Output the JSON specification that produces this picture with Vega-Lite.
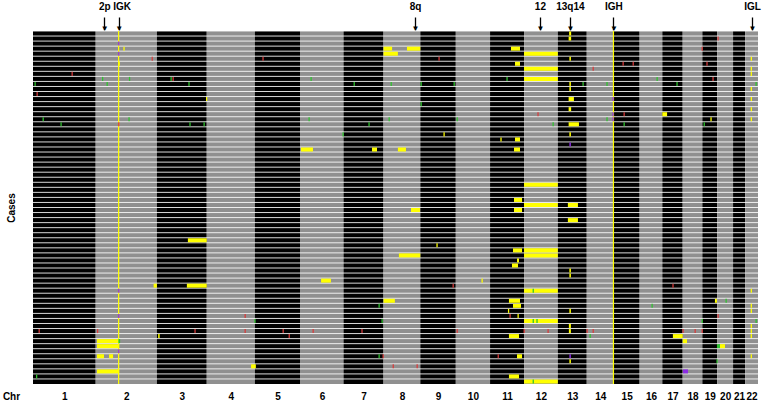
{
  "$schema": "https://vega.github.io/schema/vega-lite/v6.json",
  "width": 725,
  "height": 353,
  "autosize": {"type": "none"},
  "padding": {"left": 33, "top": 31, "right": 5, "bottom": 17},
  "background": "white",
  "config": {"view": {"stroke": null}, "font": "Liberation Sans"},
  "datasets": {
    "chromosomes": [
      {"chr": "1", "start": 0, "end": 249, "shade": "odd"},
      {"chr": "2", "start": 249, "end": 492, "shade": "even"},
      {"chr": "3", "start": 492, "end": 690, "shade": "odd"},
      {"chr": "4", "start": 690, "end": 881, "shade": "even"},
      {"chr": "5", "start": 881, "end": 1062, "shade": "odd"},
      {"chr": "6", "start": 1062, "end": 1233, "shade": "even"},
      {"chr": "7", "start": 1233, "end": 1392, "shade": "odd"},
      {"chr": "8", "start": 1392, "end": 1538, "shade": "even"},
      {"chr": "9", "start": 1538, "end": 1679, "shade": "odd"},
      {"chr": "10", "start": 1679, "end": 1815, "shade": "even"},
      {"chr": "11", "start": 1815, "end": 1950, "shade": "odd"},
      {"chr": "12", "start": 1950, "end": 2084, "shade": "even"},
      {"chr": "13", "start": 2084, "end": 2199, "shade": "odd"},
      {"chr": "14", "start": 2199, "end": 2306, "shade": "even"},
      {"chr": "15", "start": 2306, "end": 2409, "shade": "odd"},
      {"chr": "16", "start": 2409, "end": 2499, "shade": "even"},
      {"chr": "17", "start": 2499, "end": 2580, "shade": "odd"},
      {"chr": "18", "start": 2580, "end": 2658, "shade": "even"},
      {"chr": "19", "start": 2658, "end": 2717, "shade": "odd"},
      {"chr": "20", "start": 2717, "end": 2780, "shade": "even"},
      {"chr": "21", "start": 2780, "end": 2828, "shade": "odd"},
      {"chr": "22", "start": 2828, "end": 2879, "shade": "even"}
    ],
    "cases": [
      {"case": 1}, {"case": 2}, {"case": 3}, {"case": 4}, {"case": 5}, {"case": 6}, {"case": 7}, {"case": 8}, {"case": 9}, {"case": 10},
      {"case": 11}, {"case": 12}, {"case": 13}, {"case": 14}, {"case": 15}, {"case": 16}, {"case": 17}, {"case": 18}, {"case": 19}, {"case": 20},
      {"case": 21}, {"case": 22}, {"case": 23}, {"case": 24}, {"case": 25}, {"case": 26}, {"case": 27}, {"case": 28}, {"case": 29}, {"case": 30},
      {"case": 31}, {"case": 32}, {"case": 33}, {"case": 34}, {"case": 35}, {"case": 36}, {"case": 37}, {"case": 38}, {"case": 39}, {"case": 40},
      {"case": 41}, {"case": 42}, {"case": 43}, {"case": 44}, {"case": 45}, {"case": 46}, {"case": 47}, {"case": 48}, {"case": 49}, {"case": 50},
      {"case": 51}, {"case": 52}, {"case": 53}, {"case": 54}, {"case": 55}, {"case": 56}, {"case": 57}, {"case": 58}, {"case": 59}, {"case": 60},
      {"case": 61}, {"case": 62}, {"case": 63}, {"case": 64}, {"case": 65}, {"case": 66}, {"case": 67}, {"case": 68}, {"case": 69}, {"case": 70}
    ],
    "lines": [
      {"locus": "IGK", "pos": 340},
      {"locus": "IGH", "pos": 2305}
    ],
    "segments": [
      {"case": 1, "start": 2129, "end": 2137, "type": "CNA"},
      {"case": 2, "start": 2127, "end": 2137, "type": "CNA"},
      {"case": 4, "start": 1392, "end": 1426, "type": "CNA"},
      {"case": 4, "start": 1485, "end": 1538, "type": "CNA"},
      {"case": 4, "start": 1898, "end": 1934, "type": "CNA"},
      {"case": 4, "start": 359, "end": 364, "type": "CNA"},
      {"case": 5, "start": 1392, "end": 1449, "type": "CNA"},
      {"case": 5, "start": 1950, "end": 2084, "type": "CNA"},
      {"case": 6, "start": 2130, "end": 2136, "type": "CNA"},
      {"case": 6, "start": 2850, "end": 2855, "type": "CNA"},
      {"case": 7, "start": 1914, "end": 1934, "type": "CNA"},
      {"case": 7, "start": 338, "end": 345, "type": "CNA"},
      {"case": 8, "start": 1950, "end": 2084, "type": "CNA"},
      {"case": 8, "start": 2850, "end": 2855, "type": "CNA"},
      {"case": 9, "start": 2850, "end": 2855, "type": "CNA"},
      {"case": 10, "start": 1950, "end": 2084, "type": "CNA"},
      {"case": 11, "start": 2130, "end": 2136, "type": "CNA"},
      {"case": 12, "start": 2130, "end": 2136, "type": "CNA"},
      {"case": 12, "start": 2850, "end": 2855, "type": "CNA"},
      {"case": 14, "start": 2127, "end": 2148, "type": "CNA"},
      {"case": 14, "start": 687, "end": 692, "type": "CNA"},
      {"case": 14, "start": 2850, "end": 2855, "type": "CNA"},
      {"case": 16, "start": 2127, "end": 2137, "type": "CNA"},
      {"case": 16, "start": 2850, "end": 2855, "type": "CNA"},
      {"case": 17, "start": 2499, "end": 2518, "type": "CNA"},
      {"case": 18, "start": 2690, "end": 2695, "type": "CNA"},
      {"case": 18, "start": 2850, "end": 2855, "type": "CNA"},
      {"case": 19, "start": 2127, "end": 2168, "type": "CNA"},
      {"case": 21, "start": 2130, "end": 2136, "type": "CNA"},
      {"case": 21, "start": 1630, "end": 1635, "type": "CNA"},
      {"case": 22, "start": 1856, "end": 1861, "type": "CNA"},
      {"case": 22, "start": 1914, "end": 1934, "type": "CNA"},
      {"case": 24, "start": 1064, "end": 1112, "type": "CNA"},
      {"case": 24, "start": 1346, "end": 1366, "type": "CNA"},
      {"case": 24, "start": 1449, "end": 1481, "type": "CNA"},
      {"case": 24, "start": 1910, "end": 1934, "type": "CNA"},
      {"case": 31, "start": 1950, "end": 2084, "type": "CNA"},
      {"case": 34, "start": 1910, "end": 1942, "type": "CNA"},
      {"case": 35, "start": 1950, "end": 2084, "type": "CNA"},
      {"case": 35, "start": 2124, "end": 2164, "type": "CNA"},
      {"case": 36, "start": 1910, "end": 1942, "type": "CNA"},
      {"case": 36, "start": 1501, "end": 1537, "type": "CNA"},
      {"case": 38, "start": 2124, "end": 2164, "type": "CNA"},
      {"case": 42, "start": 615, "end": 690, "type": "CNA"},
      {"case": 43, "start": 1602, "end": 1607, "type": "CNA"},
      {"case": 44, "start": 1950, "end": 2084, "type": "CNA"},
      {"case": 44, "start": 1906, "end": 1942, "type": "CNA"},
      {"case": 45, "start": 1950, "end": 2084, "type": "CNA"},
      {"case": 45, "start": 1453, "end": 1538, "type": "CNA"},
      {"case": 46, "start": 1922, "end": 1930, "type": "CNA"},
      {"case": 47, "start": 1902, "end": 1926, "type": "CNA"},
      {"case": 48, "start": 2130, "end": 2136, "type": "CNA"},
      {"case": 49, "start": 2130, "end": 2136, "type": "CNA"},
      {"case": 50, "start": 1144, "end": 1183, "type": "CNA"},
      {"case": 50, "start": 1781, "end": 1786, "type": "CNA"},
      {"case": 51, "start": 611, "end": 690, "type": "CNA"},
      {"case": 51, "start": 479, "end": 492, "type": "CNA"},
      {"case": 52, "start": 1950, "end": 2084, "type": "CNA"},
      {"case": 52, "start": 2850, "end": 2855, "type": "CNA"},
      {"case": 54, "start": 1392, "end": 1437, "type": "CNA"},
      {"case": 54, "start": 1890, "end": 1934, "type": "CNA"},
      {"case": 54, "start": 2708, "end": 2716, "type": "CNA"},
      {"case": 55, "start": 1906, "end": 1938, "type": "CNA"},
      {"case": 55, "start": 2850, "end": 2855, "type": "CNA"},
      {"case": 56, "start": 2130, "end": 2136, "type": "CNA"},
      {"case": 56, "start": 1886, "end": 1891, "type": "CNA"},
      {"case": 56, "start": 2850, "end": 2855, "type": "CNA"},
      {"case": 57, "start": 1924, "end": 1929, "type": "CNA"},
      {"case": 58, "start": 1950, "end": 2084, "type": "CNA"},
      {"case": 59, "start": 2128, "end": 2136, "type": "CNA"},
      {"case": 59, "start": 2850, "end": 2855, "type": "CNA"},
      {"case": 60, "start": 2128, "end": 2136, "type": "CNA"},
      {"case": 60, "start": 2850, "end": 2855, "type": "CNA"},
      {"case": 61, "start": 1890, "end": 1930, "type": "CNA"},
      {"case": 61, "start": 2541, "end": 2580, "type": "CNA"},
      {"case": 61, "start": 497, "end": 503, "type": "CNA"},
      {"case": 61, "start": 2850, "end": 2855, "type": "CNA"},
      {"case": 62, "start": 254, "end": 342, "type": "CNA"},
      {"case": 62, "start": 2580, "end": 2597, "type": "CNA"},
      {"case": 63, "start": 254, "end": 342, "type": "CNA"},
      {"case": 63, "start": 2728, "end": 2748, "type": "CNA"},
      {"case": 65, "start": 254, "end": 282, "type": "CNA"},
      {"case": 65, "start": 302, "end": 318, "type": "CNA"},
      {"case": 65, "start": 1922, "end": 1942, "type": "CNA"},
      {"case": 65, "start": 2850, "end": 2855, "type": "CNA"},
      {"case": 66, "start": 2130, "end": 2136, "type": "CNA"},
      {"case": 67, "start": 866, "end": 885, "type": "CNA"},
      {"case": 68, "start": 254, "end": 342, "type": "CNA"},
      {"case": 69, "start": 1890, "end": 1930, "type": "CNA"},
      {"case": 70, "start": 1950, "end": 2084, "type": "CNA"},
      {"case": 10, "start": 274, "end": 279, "type": "gain"},
      {"case": 10, "start": 381, "end": 386, "type": "gain"},
      {"case": 10, "start": 546, "end": 551, "type": "gain"},
      {"case": 10, "start": 1102, "end": 1107, "type": "gain"},
      {"case": 10, "start": 1880, "end": 1885, "type": "gain"},
      {"case": 10, "start": 2476, "end": 2481, "type": "gain"},
      {"case": 11, "start": 6, "end": 11, "type": "gain"},
      {"case": 11, "start": 292, "end": 297, "type": "gain"},
      {"case": 11, "start": 617, "end": 622, "type": "gain"},
      {"case": 11, "start": 1273, "end": 1278, "type": "gain"},
      {"case": 11, "start": 1420, "end": 1425, "type": "gain"},
      {"case": 11, "start": 1539, "end": 1544, "type": "gain"},
      {"case": 11, "start": 1670, "end": 1675, "type": "gain"},
      {"case": 11, "start": 2182, "end": 2187, "type": "gain"},
      {"case": 11, "start": 2277, "end": 2282, "type": "gain"},
      {"case": 11, "start": 2555, "end": 2560, "type": "gain"},
      {"case": 11, "start": 2869, "end": 2874, "type": "gain"},
      {"case": 15, "start": 1539, "end": 1544, "type": "gain"},
      {"case": 18, "start": 38, "end": 43, "type": "gain"},
      {"case": 18, "start": 379, "end": 384, "type": "gain"},
      {"case": 18, "start": 1094, "end": 1099, "type": "gain"},
      {"case": 18, "start": 1412, "end": 1417, "type": "gain"},
      {"case": 18, "start": 1682, "end": 1687, "type": "gain"},
      {"case": 18, "start": 2277, "end": 2282, "type": "gain"},
      {"case": 19, "start": 109, "end": 114, "type": "gain"},
      {"case": 19, "start": 621, "end": 626, "type": "gain"},
      {"case": 19, "start": 677, "end": 682, "type": "gain"},
      {"case": 19, "start": 1332, "end": 1337, "type": "gain"},
      {"case": 19, "start": 2063, "end": 2068, "type": "gain"},
      {"case": 19, "start": 2345, "end": 2350, "type": "gain"},
      {"case": 19, "start": 2663, "end": 2668, "type": "gain"},
      {"case": 21, "start": 1229, "end": 1234, "type": "gain"},
      {"case": 52, "start": 1984, "end": 1989, "type": "gain"},
      {"case": 54, "start": 2750, "end": 2755, "type": "gain"},
      {"case": 55, "start": 1372, "end": 1377, "type": "gain"},
      {"case": 55, "start": 2456, "end": 2461, "type": "gain"},
      {"case": 58, "start": 879, "end": 884, "type": "gain"},
      {"case": 58, "start": 1384, "end": 1389, "type": "gain"},
      {"case": 58, "start": 1984, "end": 1989, "type": "gain"},
      {"case": 58, "start": 1999, "end": 2004, "type": "gain"},
      {"case": 58, "start": 2655, "end": 2660, "type": "gain"},
      {"case": 58, "start": 2869, "end": 2874, "type": "gain"},
      {"case": 61, "start": 2210, "end": 2215, "type": "gain"},
      {"case": 62, "start": 339, "end": 346, "type": "gain"},
      {"case": 63, "start": 2716, "end": 2728, "type": "gain"},
      {"case": 65, "start": 1372, "end": 1377, "type": "gain"},
      {"case": 66, "start": 2714, "end": 2719, "type": "gain"},
      {"case": 69, "start": 12, "end": 17, "type": "gain"},
      {"case": 70, "start": 1984, "end": 1989, "type": "gain"},
      {"case": 2, "start": 2718, "end": 2723, "type": "loss"},
      {"case": 4, "start": 2655, "end": 2660, "type": "loss"},
      {"case": 6, "start": 471, "end": 476, "type": "loss"},
      {"case": 6, "start": 911, "end": 916, "type": "loss"},
      {"case": 6, "start": 1610, "end": 1615, "type": "loss"},
      {"case": 7, "start": 2341, "end": 2346, "type": "loss"},
      {"case": 7, "start": 2381, "end": 2386, "type": "loss"},
      {"case": 7, "start": 2674, "end": 2679, "type": "loss"},
      {"case": 8, "start": 2222, "end": 2227, "type": "loss"},
      {"case": 9, "start": 153, "end": 158, "type": "loss"},
      {"case": 10, "start": 554, "end": 559, "type": "loss"},
      {"case": 10, "start": 2698, "end": 2703, "type": "loss"},
      {"case": 13, "start": 14, "end": 19, "type": "loss"},
      {"case": 17, "start": 2003, "end": 2008, "type": "loss"},
      {"case": 17, "start": 2345, "end": 2350, "type": "loss"},
      {"case": 19, "start": 338, "end": 343, "type": "loss"},
      {"case": 51, "start": 1666, "end": 1671, "type": "loss"},
      {"case": 51, "start": 2539, "end": 2544, "type": "loss"},
      {"case": 57, "start": 840, "end": 845, "type": "loss"},
      {"case": 57, "start": 1892, "end": 1897, "type": "loss"},
      {"case": 57, "start": 2718, "end": 2723, "type": "loss"},
      {"case": 60, "start": 22, "end": 27, "type": "loss"},
      {"case": 60, "start": 254, "end": 259, "type": "loss"},
      {"case": 60, "start": 641, "end": 646, "type": "loss"},
      {"case": 60, "start": 840, "end": 845, "type": "loss"},
      {"case": 60, "start": 991, "end": 996, "type": "loss"},
      {"case": 60, "start": 1110, "end": 1115, "type": "loss"},
      {"case": 60, "start": 1304, "end": 1309, "type": "loss"},
      {"case": 60, "start": 1682, "end": 1687, "type": "loss"},
      {"case": 60, "start": 1948, "end": 1953, "type": "loss"},
      {"case": 60, "start": 2043, "end": 2048, "type": "loss"},
      {"case": 60, "start": 2198, "end": 2203, "type": "loss"},
      {"case": 60, "start": 2222, "end": 2227, "type": "loss"},
      {"case": 60, "start": 2579, "end": 2584, "type": "loss"},
      {"case": 60, "start": 2627, "end": 2632, "type": "loss"},
      {"case": 60, "start": 2655, "end": 2660, "type": "loss"},
      {"case": 61, "start": 1015, "end": 1020, "type": "loss"},
      {"case": 65, "start": 1388, "end": 1393, "type": "loss"},
      {"case": 65, "start": 1845, "end": 1850, "type": "loss"},
      {"case": 67, "start": 1428, "end": 1433, "type": "loss"},
      {"case": 67, "start": 1523, "end": 1528, "type": "loss"},
      {"case": 3, "start": 338, "end": 343, "type": "bi-allelic"},
      {"case": 5, "start": 338, "end": 343, "type": "bi-allelic"},
      {"case": 52, "start": 338, "end": 343, "type": "bi-allelic"},
      {"case": 57, "start": 338, "end": 343, "type": "bi-allelic"},
      {"case": 64, "start": 338, "end": 343, "type": "bi-allelic"},
      {"case": 14, "start": 2301, "end": 2306, "type": "bi-allelic"},
      {"case": 17, "start": 2301, "end": 2306, "type": "bi-allelic"},
      {"case": 18, "start": 2301, "end": 2306, "type": "bi-allelic"},
      {"case": 23, "start": 2130, "end": 2136, "type": "bi-allelic"},
      {"case": 65, "start": 2130, "end": 2136, "type": "bi-allelic"},
      {"case": 68, "start": 2581, "end": 2601, "type": "bi-allelic"}
    ]
  },
  "resolve": {"scale": {"color": "independent"}, "axis": {"x": "independent"}},
  "layer": [
    {
      "data": {"name": "chromosomes"},
      "mark": {"type": "rect"},
      "encoding": {
        "x": {
          "field": "start", "type": "quantitative",
          "scale": {"domain": [0, 2879], "nice": false, "zero": false},
          "axis": {
            "orient": "bottom",
            "values": [124.5, 370.5, 591, 785.5, 971.5, 1147.5, 1312.5, 1465, 1608.5, 1747, 1882.5, 2017, 2141.5, 2252.5, 2357.5, 2454, 2539.5, 2619, 2687.5, 2748.5, 2804, 2853.5],
            "labelExpr": "'' + (indexof([124.5, 370.5, 591, 785.5, 971.5, 1147.5, 1312.5, 1465, 1608.5, 1747, 1882.5, 2017, 2141.5, 2252.5, 2357.5, 2454, 2539.5, 2619, 2687.5, 2748.5, 2804, 2853.5], datum.value) + 1)",
            "ticks": false, "domain": false, "grid": false,
            "labelPadding": 7, "labelFontSize": 10, "labelFontWeight": "bold", "labelColor": "black",
            "labelFont": "Liberation Sans", "labelOverlap": false, "labelFlush": false,
            "title": "Chr", "titleX": -22, "titleY": 7, "titleAlign": "center", "titleBaseline": "top",
            "titleFont": "Liberation Sans", "titleFontSize": 10, "titleFontWeight": "bold", "titleColor": "black"
          }
        },
        "x2": {"field": "end"},
        "color": {
          "field": "shade", "type": "nominal",
          "scale": {"domain": ["odd", "even"], "range": ["#000000", "#909090"]},
          "legend": null
        }
      }
    },
    {
      "data": {"name": "cases"},
      "mark": {"type": "rule", "color": "white", "opacity": 0.85, "strokeWidth": 1},
      "encoding": {
        "y": {
          "field": "case", "type": "ordinal", "bandPosition": 0,
          "scale": {"type": "band", "domain": [1,2,3,4,5,6,7,8,9,10,11,12,13,14,15,16,17,18,19,20,21,22,23,24,25,26,27,28,29,30,31,32,33,34,35,36,37,38,39,40,41,42,43,44,45,46,47,48,49,50,51,52,53,54,55,56,57,58,59,60,61,62,63,64,65,66,67,68,69,70], "paddingInner": 0, "paddingOuter": 0},
          "axis": {"title": "Cases", "labels": false, "ticks": false, "domain": false, "grid": false, "titleFont": "Liberation Sans", "titleFontSize": 10, "titleFontWeight": "bold", "titleColor": "black", "titlePadding": 17}
        }
      }
    },
    {
      "data": {"name": "lines"},
      "mark": {"type": "rule", "color": "#ffff00", "strokeWidth": 1.2},
      "encoding": {
        "x": {
          "field": "pos", "type": "quantitative",
          "scale": {"domain": [0, 2879], "nice": false, "zero": false},
          "axis": {
            "orient": "top",
            "values": [283, 340, 1517, 2013, 2132, 2305, 2855],
            "labelExpr": "datum.value == 283 ? '2p' : datum.value == 340 ? 'IGK' : datum.value == 1517 ? '8q' : datum.value == 2013 ? '12' : datum.value == 2132 ? '13q14' : datum.value == 2305 ? 'IGH' : 'IGL'",
            "labelOffset": {"condition": {"test": "datum.value == 340", "value": 3}, "value": 0},
            "tickSize": 13, "tickWidth": 1.3, "tickColor": "black", "domain": false, "grid": false,
            "labelPadding": 6, "labelFontSize": 10, "labelFontWeight": "bold", "labelColor": "black",
            "labelFont": "Liberation Sans", "labelOverlap": false, "labelFlush": false, "labelBound": false,
            "title": null, "offset": 1
          }
        }
      }
    },
    {
      "data": {"name": "segments"},
      "mark": {"type": "rect", "height": {"band": 0.8}},
      "encoding": {
        "x": {
          "field": "start", "type": "quantitative",
          "scale": {"domain": [0, 2879], "nice": false, "zero": false},
          "axis": {
            "orient": "top",
            "values": [283, 340, 1517, 2013, 2132, 2305, 2855],
            "labelExpr": "'▼'",
            "ticks": false, "tickSize": 0, "domain": false, "grid": false,
            "labelPadding": -2, "labelFontSize": 8, "labelColor": "black",
            "labelFont": "Liberation Sans", "labelOverlap": false, "labelFlush": false, "labelBound": false,
            "title": null, "offset": 1
          }
        },
        "x2": {"field": "end"},
        "y": {
          "field": "case", "type": "ordinal",
          "scale": {"type": "band", "domain": [1,2,3,4,5,6,7,8,9,10,11,12,13,14,15,16,17,18,19,20,21,22,23,24,25,26,27,28,29,30,31,32,33,34,35,36,37,38,39,40,41,42,43,44,45,46,47,48,49,50,51,52,53,54,55,56,57,58,59,60,61,62,63,64,65,66,67,68,69,70], "paddingInner": 0, "paddingOuter": 0},
          "axis": {"title": "Cases", "labels": false, "ticks": false, "domain": false, "grid": false, "titleFont": "Liberation Sans", "titleFontSize": 10, "titleFontWeight": "bold", "titleColor": "black", "titlePadding": 17}
        },
        "color": {
          "field": "type", "type": "nominal",
          "scale": {"domain": ["CNA", "loss", "gain", "bi-allelic"], "range": ["#ffff00", "#d93a3a", "#2ec42e", "#8a2be2"]},
          "legend": null
        }
      }
    }
  ]
}
